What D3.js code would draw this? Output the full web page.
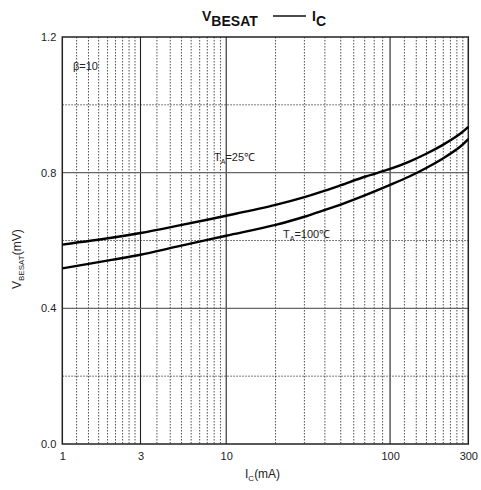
<!DOCTYPE html>
<html>
<head>
<meta charset="utf-8">
<script src="https://cdn.jsdelivr.net/npm/d3@7"></script>
<style>
  body { margin: 0; background: #fff; }
  svg { display: block; font-family: "Liberation Sans", Arial, sans-serif; }
</style>
</head>
<body>
<svg id="chart" width="481" height="490"></svg>
<script>
// ── data ──
const currentMA = [1, 2, 3, 5, 10, 20, 30, 40, 50, 70, 100, 130, 165, 210, 265, 300];
const vbe25 = [0.588, 0.608, 0.622, 0.643, 0.673, 0.705, 0.728, 0.747, 0.763, 0.788, 0.811, 0.832, 0.855, 0.882, 0.913, 0.935];
const vbe100 = [0.518, 0.543, 0.558, 0.582, 0.614, 0.646, 0.670, 0.690, 0.706, 0.733, 0.764, 0.788, 0.813, 0.842, 0.875, 0.899];

const xTickValues = [1, 3, 10, 100, 300];
const yTickValues = [0.0, 0.4, 0.8, 1.2];
const ySolidGrid = [0.4, 0.8];
const yDottedGrid = [0.2, 0.6, 1.0];
const xSolidGrid = [3, 10, 100];
// minor lines: the 1-3, 3-10 and 100-300 spans are cut in 9 equal steps
const xDottedGrid = [
  ...d3.range(1, 9).map(k => 1 + 2 * k / 9),
  ...d3.range(1, 9).map(k => 3 + 7 * k / 9),
  ...d3.range(20, 100, 10),
  ...d3.range(1, 9).map(k => 100 + 200 * k / 9),
];

const svg = d3.select('#chart');
const M = { left: 62.3, right: 468.3, top: 37, bottom: 444 };

const x = d3.scaleLog().domain([1, 300]).range([M.left, M.right]);
const y = d3.scaleLinear().domain([0, 1.2]).range([M.bottom, M.top]);

// dotted grid
const grid = svg.append('g');
grid.selectAll('.vd').data(xDottedGrid).enter().append('line')
  .attr('x1', d => x(d)).attr('x2', d => x(d))
  .attr('y1', M.top).attr('y2', M.bottom)
  .attr('stroke', '#222').attr('stroke-width', 0.8).attr('stroke-dasharray', '1.5,1.5');
grid.selectAll('.hd').data(yDottedGrid).enter().append('line')
  .attr('x1', M.left).attr('x2', M.right)
  .attr('y1', d => y(d)).attr('y2', d => y(d))
  .attr('stroke', '#222').attr('stroke-width', 0.8).attr('stroke-dasharray', '1.5,1.5');

// solid grid
grid.selectAll('.vs').data(xSolidGrid).enter().append('line')
  .attr('x1', d => x(d)).attr('x2', d => x(d))
  .attr('y1', M.top).attr('y2', M.bottom)
  .attr('stroke', (d, i) => i === 2 ? '#666' : '#222').attr('stroke-width', (d, i) => i === 2 ? 1.6 : 1.1);
grid.selectAll('.hs').data(ySolidGrid).enter().append('line')
  .attr('x1', M.left).attr('x2', M.right)
  .attr('y1', d => y(d)).attr('y2', d => y(d))
  .attr('stroke', '#666').attr('stroke-width', 1.4);

// frame
svg.append('rect')
  .attr('x', M.left).attr('y', M.top)
  .attr('width', M.right - M.left).attr('height', M.bottom - M.top)
  .attr('fill', 'none').attr('stroke', '#222').attr('stroke-width', 1.5);

// axes (labels only)
const xAxis = svg.append('g').attr('transform', `translate(0,${M.bottom})`)
  .call(d3.axisBottom(x).tickValues(xTickValues).tickFormat(d3.format('d')).tickSize(0).tickPadding(8));
const yAxis = svg.append('g').attr('transform', `translate(${M.left},0)`)
  .call(d3.axisLeft(y).tickValues(yTickValues).tickFormat(d3.format('.1f')).tickSize(0).tickPadding(6));
[xAxis, yAxis].forEach(a => {
  a.select('.domain').remove();
  a.selectAll('text').attr('font-size', 11).attr('fill', '#222')
    .attr('font-family', '"Liberation Sans", Arial, sans-serif');
});

// curves
const line = d3.line().x(d => x(d[0])).y(d => y(d[1])).curve(d3.curveCatmullRom.alpha(0.5));
[vbe25, vbe100].forEach(series => {
  svg.append('path')
    .datum(currentMA.map((c, i) => [c, series[i]]))
    .attr('d', line)
    .attr('fill', 'none').attr('stroke', '#000').attr('stroke-width', 2.4);
});

// annotations
svg.append('text').attr('x', 73).attr('y', 70).attr('font-size', 11).attr('fill', '#222').text('β=10');

function tempLabel(px, py, t) {
  const el = svg.append('text').attr('x', px).attr('y', py).attr('font-size', 11).attr('fill', '#222');
  el.append('tspan').text('T');
  el.append('tspan').attr('font-size', 7).attr('dy', 3).text('A');
  el.append('tspan').attr('dy', -3).text(`=${t}℃`);
}
tempLabel(214, 161, 25);
tempLabel(283, 238, 100);

// title
const title = svg.append('text').attr('x', 202).attr('y', 21)
  .attr('font-size', 14).attr('font-weight', 'bold').attr('fill', '#111');
title.append('tspan').text('V');
title.append('tspan').attr('dy', 5).text('BESAT');
svg.append('line').attr('x1', 273).attr('x2', 306).attr('y1', 16).attr('y2', 16)
  .attr('stroke', '#111').attr('stroke-width', 1.6);
const title2 = svg.append('text').attr('x', 312).attr('y', 21)
  .attr('font-size', 14).attr('font-weight', 'bold').attr('fill', '#111');
title2.append('tspan').text('I');
title2.append('tspan').attr('dy', 5).text('C');

// axis titles
const xt = svg.append('text').attr('x', 245).attr('y', 478).attr('font-size', 12).attr('fill', '#222');
xt.append('tspan').text('I');
xt.append('tspan').attr('font-size', 8).attr('dy', 3).text('C');
xt.append('tspan').attr('dy', -3).text('(mA)');

const yt = svg.append('text').attr('transform', 'translate(21,289) rotate(-90)')
  .attr('font-size', 12).attr('fill', '#222');
yt.append('tspan').text('V');
yt.append('tspan').attr('font-size', 8).attr('dy', 3).text('BESAT');
yt.append('tspan').attr('dy', -3).text('(mV)');
</script>
</body>
</html>
